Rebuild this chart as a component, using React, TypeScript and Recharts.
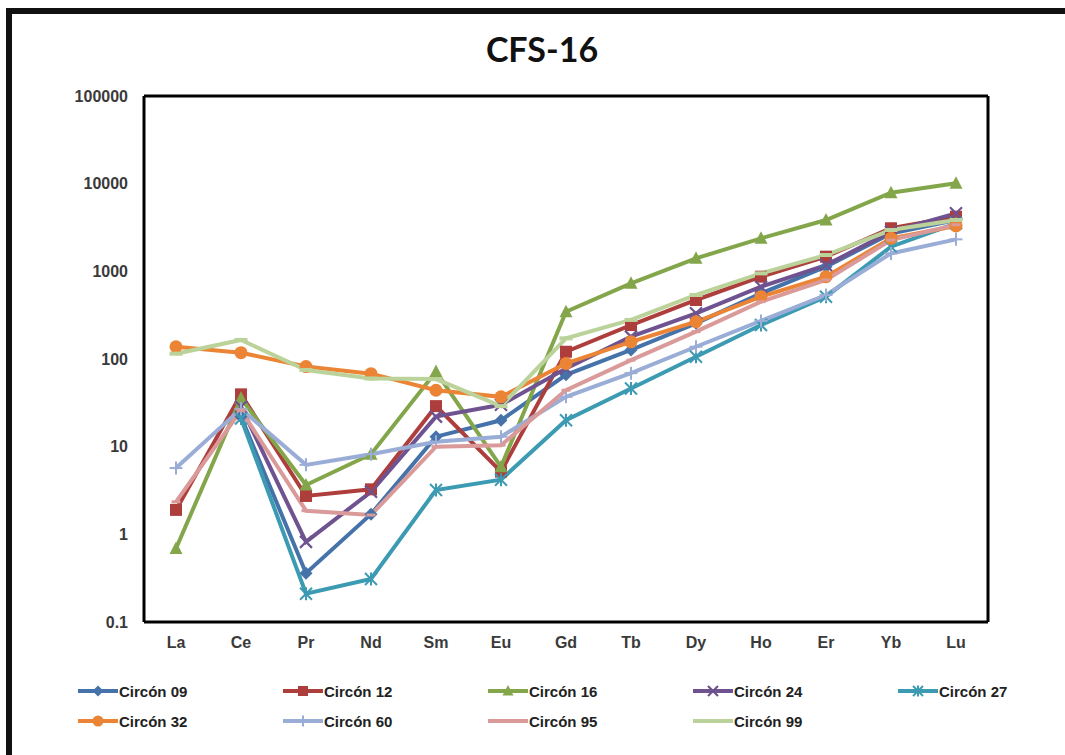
import React from "react";
import { LineChart, Line, XAxis, YAxis, Legend } from "recharts";

const elements = ["La", "Ce", "Pr", "Nd", "Sm", "Eu", "Gd", "Tb", "Dy", "Ho", "Er", "Yb", "Lu"];

const circon09 = [null, 22, 0.36, 1.7, 13, 20, 66, 127, 255, 560, 1130, 2700, 3850];
const circon12 = [1.9, 39.5, 2.74, 3.26, 29, 5.2, 121, 244, 471, 869, 1470, 3100, 4200];
const circon16 = [0.69, 35.6, 3.66, 8.2, 72, 5.9, 346, 730, 1406, 2380, 3850, 7890, 10090];
const circon24 = [null, 28.6, 0.82, 3.06, 22, 30, 78, 180, 332, 668, 1180, 2830, 4590];
const circon27 = [null, 21, 0.21, 0.31, 3.2, 4.2, 20, 46, 106, 244, 514, 1910, 3530];
const circon32 = [138, 118, 82, 68, 44, 37, 89, 157, 266, 514, 869, 2380, 3290];
const circon60 = [5.7, 27, 6.2, 8.2, 11.4, 13, 37, 69, 138, 272, 537, 1600, 2316];
const circon95 = [2.35, 26, 1.86, 1.66, 10, 10.4, 44, 97, 205, 451, 796, 2275, 3400];
const circon99 = [115, 165, 75, 60, 59, 29, 172, 279, 537, 948, 1535, 2960, 3850];

const yTicks = [0.1, 1, 10, 100, 1000, 10000, 100000];

type Shape = "diamond" | "square" | "triangle" | "x" | "star" | "circle" | "plus" | "dash" | "bar";

const series: { key: string; name: string; color: string; shape: Shape; values: (number | null)[] }[] = [
  { key: "c09", name: "Circón 09", color: "#4672AA", shape: "diamond", values: circon09 },
  { key: "c12", name: "Circón 12", color: "#AE3E3B", shape: "square", values: circon12 },
  { key: "c16", name: "Circón 16", color: "#84A64B", shape: "triangle", values: circon16 },
  { key: "c24", name: "Circón 24", color: "#6E5390", shape: "x", values: circon24 },
  { key: "c27", name: "Circón 27", color: "#3C9BB2", shape: "star", values: circon27 },
  { key: "c32", name: "Circón 32", color: "#EB8535", shape: "circle", values: circon32 },
  { key: "c60", name: "Circón 60", color: "#9AADD6", shape: "plus", values: circon60 },
  { key: "c95", name: "Circón 95", color: "#DB9A9A", shape: "dash", values: circon95 },
  { key: "c99", name: "Circón 99", color: "#BBD39A", shape: "bar", values: circon99 },
];

const data = elements.map((el, i) => {
  const row: any = { el, frame: 1 };
  series.forEach((s) => (row[s.key] = s.values[i]));
  return row;
});

function Marker({ shape, color, cx, cy, s = 6.5 }: { shape: Shape; color: string; cx: number; cy: number; s?: number }) {
  switch (shape) {
    case "diamond":
      return <polygon points={`${cx},${cy - s} ${cx + s},${cy} ${cx},${cy + s} ${cx - s},${cy}`} fill={color} />;
    case "square":
      return <rect x={cx - s + 0.5} y={cy - s + 0.5} width={s * 2 - 1} height={s * 2 - 1} fill={color} />;
    case "triangle":
      return <polygon points={`${cx},${cy - s - 0.5} ${cx + s},${cy + s - 1} ${cx - s},${cy + s - 1}`} fill={color} />;
    case "x":
      return (
        <g stroke={color} strokeWidth={2.2}>
          <line x1={cx - s + 0.5} y1={cy - s + 0.5} x2={cx + s - 0.5} y2={cy + s - 0.5} />
          <line x1={cx - s + 0.5} y1={cy + s - 0.5} x2={cx + s - 0.5} y2={cy - s + 0.5} />
        </g>
      );
    case "star":
      return (
        <g stroke={color} strokeWidth={2}>
          <line x1={cx - s + 0.5} y1={cy - s + 0.5} x2={cx + s - 0.5} y2={cy + s - 0.5} />
          <line x1={cx - s + 0.5} y1={cy + s - 0.5} x2={cx + s - 0.5} y2={cy - s + 0.5} />
          <line x1={cx} y1={cy - s} x2={cx} y2={cy + s} />
        </g>
      );
    case "circle":
      return <circle cx={cx} cy={cy} r={s} fill={color} />;
    case "plus":
      return (
        <g stroke={color} strokeWidth={2}>
          <line x1={cx - s} y1={cy} x2={cx + s} y2={cy} />
          <line x1={cx} y1={cy - s} x2={cx} y2={cy + s} />
        </g>
      );
    case "dash":
      return <rect x={cx - 4.5} y={cy - 1.5} width={9} height={3} fill={color} />;
    case "bar":
      return <rect x={cx - 6.5} y={cy - 2} width={13} height={4} fill={color} />;
  }
  return null;
}

const renderLegend = () => (
  <div style={{ display: "grid", gridTemplateColumns: "repeat(5, 205px)", rowGap: 12 }}>
    {series.map((s) => (
      <div key={s.key} style={{ display: "flex", alignItems: "center", height: 18 }}>
        <svg width={41} height={14}>
          <line x1={0} y1={7} x2={40} y2={7} stroke={s.color} strokeWidth={4} />
          <Marker shape={s.shape} color={s.color} cx={20} cy={7} s={5.5} />
        </svg>
        <span
          style={{
            fontFamily: '"Liberation Sans", Arial, sans-serif',
            fontWeight: "bold",
            fontSize: 15,
            color: "#222",
          }}
        >
          {s.name}
        </span>
      </div>
    ))}
  </div>
);

const tickStyle = {
  fontFamily: '"Liberation Sans", Arial, sans-serif',
  fontWeight: "bold",
  fontSize: 16,
  fill: "#3a3a3a",
};

const frameLine = { stroke: "#000", strokeWidth: 3 };

export default function App() {
  return (
    <div style={{ position: "absolute", left: 0, top: 0, width: 1065, height: 755, background: "#fff" }}>
      <div
        style={{
          position: "absolute",
          left: 6,
          top: 8,
          width: 1059,
          height: 747,
          borderLeft: "6px solid #111",
          borderTop: "6px solid #111",
          boxSizing: "border-box",
        }}
      />
      <div
        style={{
          position: "absolute",
          left: 442,
          top: 32,
          width: 200,
          textAlign: "center",
          fontFamily: "Lato, sans-serif",
          fontWeight: 700,
          fontSize: 34,
          lineHeight: "34px",
          color: "#111",
        }}
      >
        CFS-16
      </div>
      <LineChart
        width={1065}
        height={755}
        data={data}
        margin={{ top: 95, right: 76, left: 64, bottom: 93 }}
      >
        <XAxis
          dataKey="el"
          interval={0}
          height={40}
          padding={{ left: 32, right: 32 }}
          tickLine={false}
          tickSize={8}
          tickMargin={7}
          axisLine={frameLine}
          tick={tickStyle}
        />
        <XAxis
          xAxisId="top"
          dataKey="el"
          orientation="top"
          height={1}
          padding={{ left: 32, right: 32 }}
          tick={false}
          tickLine={false}
          axisLine={frameLine}
        />
        <YAxis
          type="number"
          scale="log"
          domain={[0.1, 100000]}
          ticks={yTicks}
          allowDataOverflow
          width={80}
          tickLine={false}
          tickSize={8}
          tickMargin={8}
          axisLine={frameLine}
          tick={tickStyle}
          tickFormatter={(v: number) => String(v)}
        />
        <YAxis
          yAxisId="right"
          orientation="right"
          type="number"
          domain={[0, 2]}
          width={1}
          tick={false}
          tickLine={false}
          axisLine={frameLine}
        />
        <Legend
          verticalAlign="middle"
          align="center"
          layout="horizontal"
          content={renderLegend}
          wrapperStyle={{ left: 78, top: 682, width: 1030 }}
        />
        {/* invisible helper series so the frame axes on top and right get drawn */}
        <Line
          xAxisId="top"
          yAxisId="right"
          dataKey="frame"
          stroke="none"
          dot={false}
          activeDot={false}
          legendType="none"
          isAnimationActive={false}
        />
        {series.map((s) => (
          <Line
            key={s.key}
            dataKey={s.key}
            name={s.name}
            stroke={s.color}
            strokeWidth={4}
            type="linear"
            isAnimationActive={false}
            connectNulls={false}
            activeDot={false}
            dot={(p: any) =>
              p.cx == null || p.cy == null || p.value == null ? (
                <g key={`${s.key}-${p.index}`} />
              ) : (
                <g key={`${s.key}-${p.index}`}>
                  <Marker shape={s.shape} color={s.color} cx={p.cx} cy={p.cy} />
                </g>
              )
            }
          />
        ))}
      </LineChart>
    </div>
  );
}
